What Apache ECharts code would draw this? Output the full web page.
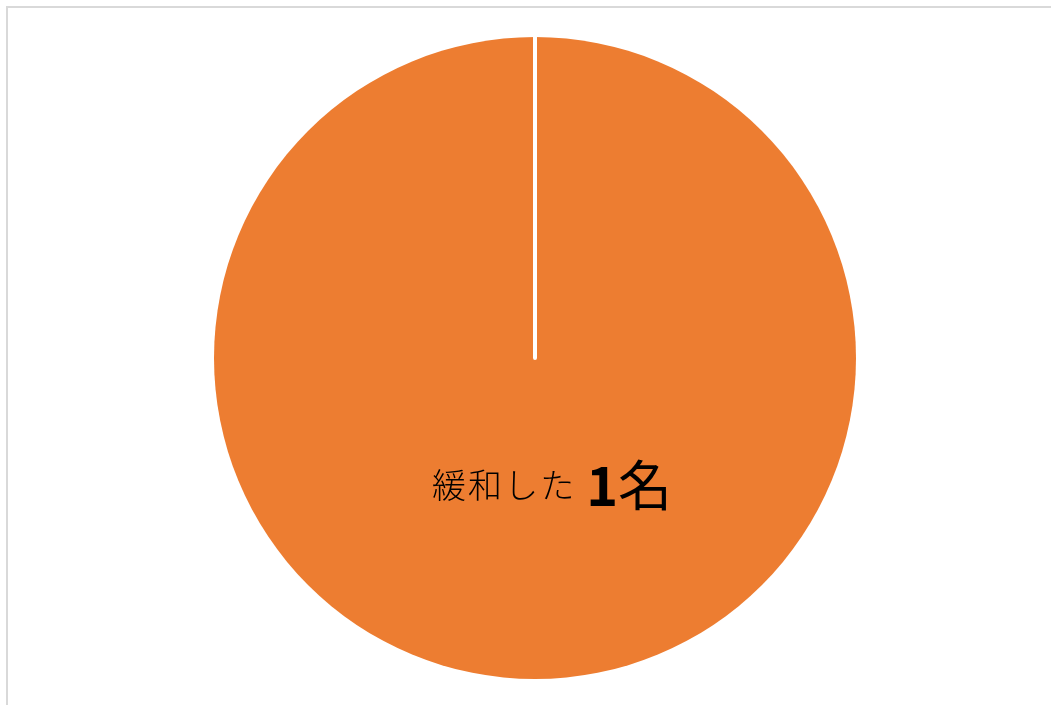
<!DOCTYPE html>
<html>
<head>
<meta charset="utf-8">
<script src="https://cdn.jsdelivr.net/npm/echarts@6/dist/echarts.min.js"></script>
<style>
html,body{margin:0;padding:0;background:#fff;}
#main{width:1051px;height:705px;}
</style>
</head>
<body>
<div id="main"></div>
<script>
var categories = ['緩和した', '緩和しなかった'];
var values = [1, 0];
var unit = '名';

var chart = echarts.init(document.getElementById('main'));
var data = categories.map(function (c, i) {
  var item = { name: c, value: values[i] };
  if (values[i] === 0) {
    item.label = { show: false };
    item.itemStyle = { color: '#ffffff', borderColor: '#ffffff', borderWidth: 4 };
  }
  return item;
});
chart.setOption({
  animation: false,
  backgroundColor: '#ffffff',
  graphic: [{
    type: 'rect',
    shape: { x: 7, y: 7, width: 1200, height: 1200 },
    style: { fill: 'none', stroke: '#d9d9d9', lineWidth: 2 },
    silent: true,
    z: -10
  }],
  series: [{
    type: 'pie',
    center: [535, 358],
    radius: [0, 321],
    startAngle: 90,
    clockwise: true,
    avoidLabelOverlap: false,
    stillShowZeroSum: true,
    minAngle: 0,
    itemStyle: { color: '#ED7D31', borderWidth: 0 },
    emphasis: { disabled: true },
    labelLine: { show: false },
    label: {
      show: true,
      position: 'center',
      offset: [17, 127],
      formatter: function (p) { return '{a|' + p.name.split('').join('\u200a') + '}{n|' + p.value + '}{b|' + unit + '}'; },
      rich: {
        a: { fontFamily: 'Noto Sans CJK JP', fontSize: 34, color: '#000000', fontWeight: 300, padding: [0, 12, 0, 0] },
        n: { fontFamily: 'Noto Sans CJK JP', fontSize: 54, color: '#000000', fontWeight: 'bold' },
        b: { fontFamily: 'Noto Sans CJK JP', fontSize: 54, color: '#000000' }
      }
    },
    data: data
  }]
});
</script>
</body>
</html>
